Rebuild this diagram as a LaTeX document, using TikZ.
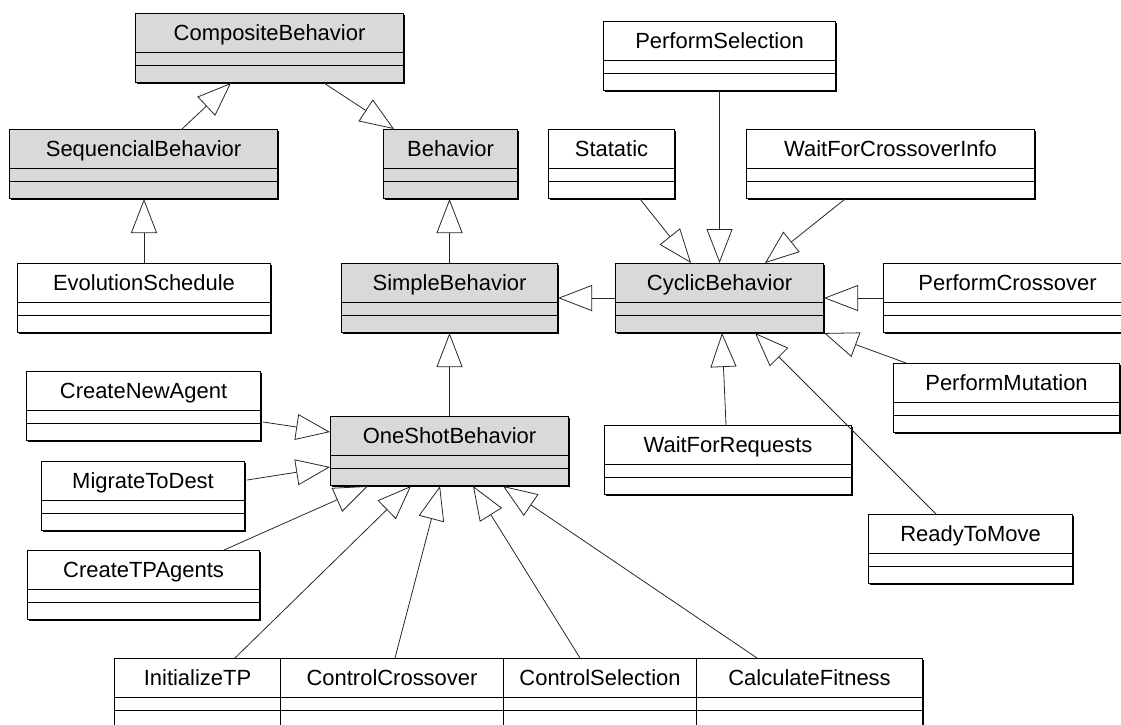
\documentclass[tikz,border=0pt]{standalone}
\usepackage{fontspec}
\setmainfont{Liberation Sans}
\usetikzlibrary{arrows.meta,calc,shadows}
\definecolor{clsgray}{RGB}{217,217,217}
\begin{document}
\begin{tikzpicture}[x=0.02cm, y=-0.02cm,
            cls/.style={draw, line width=0.6pt, fill=white, rectangle, anchor=north west, inner sep=0pt,
                    minimum width=#1*0.02cm, minimum height=1.38cm, text height=0.547cm, text depth=0.833cm,
                    font=\fontsize{12.5}{15}\selectfont,
                    drop shadow={shadow xshift=0.6pt, shadow yshift=-0.6pt, fill=black, opacity=1},
                    path picture={\draw[line width=0.5pt]
                        ([yshift=-0.78cm]path picture bounding box.north west) -- ([yshift=-0.78cm]path picture bounding box.north east)
                        ([yshift=-1.04cm]path picture bounding box.north west) -- ([yshift=-1.04cm]path picture bounding box.north east);}},
            abstract/.style={cls=#1, fill=clsgray},
            inherit/.style={draw=black!85, line width=0.45pt, -{Triangle[open, length=0.68cm, width=0.52cm]}}
        ]
        \clip (0,0) rectangle (1121,724);

        \node[abstract=268] (comp) at (135,13) {CompositeBehavior};
        \node[abstract=268] (seq) at (9,129) {SequencialBehavior};
        \node[abstract=134] (beh) at (383,129) {Behavior};
        \node[cls=232] (psel) at (603,21) {PerformSelection};
        \node[cls=126] (stat) at (548,129) {Statatic};
        \node[cls=288] (wfci) at (746,129) {WaitForCrossoverInfo};
        \node[cls=253] (evo) at (17,263) {EvolutionSchedule};
        \node[abstract=216] (simple) at (341,263) {SimpleBehavior};
        \node[abstract=208] (cyc) at (615,263) {CyclicBehavior};
        \node[cls=248] (pcross) at (883,263) {PerformCrossover};
        \node[cls=226] (pmut) at (893,363) {PerformMutation};
        \node[cls=234] (cna) at (26,371) {CreateNewAgent};
        \node[abstract=238] (one) at (330,416) {OneShotBehavior};
        \node[cls=247] (wfr) at (604,425) {WaitForRequests};
        \node[cls=203] (mig) at (41,461) {MigrateToDest};
        \node[cls=204] (rtm) at (868,514) {ReadyToMove};
        \node[cls=232] (ctp) at (27,550) {CreateTPAgents};
        \node[cls=166] (init) at (114,658) {InitializeTP};
        \node[cls=223] (ccross) at (280,658) {ControlCrossover};
        \node[cls=193] (csel) at (503,658) {ControlSelection};
        \node[cls=226] (cfit) at (696,658) {CalculateFitness};

        \draw[inherit] ($(seq.north west)+(173,0)$) -- ($(comp.south west)+(96,0)$);
        \draw[inherit] ($(comp.south west)+(189,0)$) -- ($(beh.north west)+(11,0)$);
        \draw[inherit] ($(evo.north west)+(127,0)$) -- ($(seq.south west)+(135,0)$);
        \draw[inherit] (simple.north) -- (simple.north |- beh.south);
        \draw[inherit] (one.north) -- (one.north |- simple.south);
        \draw[inherit] (cyc.west) -- (cyc.west -| simple.east);
        \draw[inherit] (pcross.west) -- (pcross.west -| cyc.east);
        \draw[inherit] ($(stat.south west)+(92,0)$) -- ($(cyc.north west)+(76,0)$);
        \draw[inherit] (psel.south) -- (psel.south |- cyc.north);
        \draw[inherit] ($(wfci.south west)+(99,0)$) -- ($(cyc.north west)+(150,0)$);
        \draw[inherit] ($(wfr.north west)+(122,0)$) -- ($(cyc.south west)+(107,0)$);
        \draw[inherit] ($(rtm.north west)+(68,0)$) -- ($(cyc.south west)+(140,0)$);
        \draw[inherit] ($(pmut.north west)+(13,0)$) -- (cyc.south east);
        \draw[inherit] ($(cna.north east)+(2,51)$) -- ($(one.north west)+(0,16)$);
        \draw[inherit] ($(mig.north east)+(2,19)$) -- ($(one.north west)+(0,51)$);
        \draw[inherit] ($(ctp.north west)+(197,0)$) -- ($(one.south west)+(38,0)$);
        \draw[inherit] ($(init.north west)+(121,0)$) -- ($(one.south west)+(81,0)$);
        \draw[inherit] ($(ccross.north west)+(115,0)$) -- ($(one.south west)+(110,0)$);
        \draw[inherit] ($(csel.north west)+(77,0)$) -- ($(one.south west)+(143,0)$);
        \draw[inherit] ($(cfit.north west)+(61,0)$) -- ($(one.south west)+(173,0)$);
    \end{tikzpicture}
\end{document}
